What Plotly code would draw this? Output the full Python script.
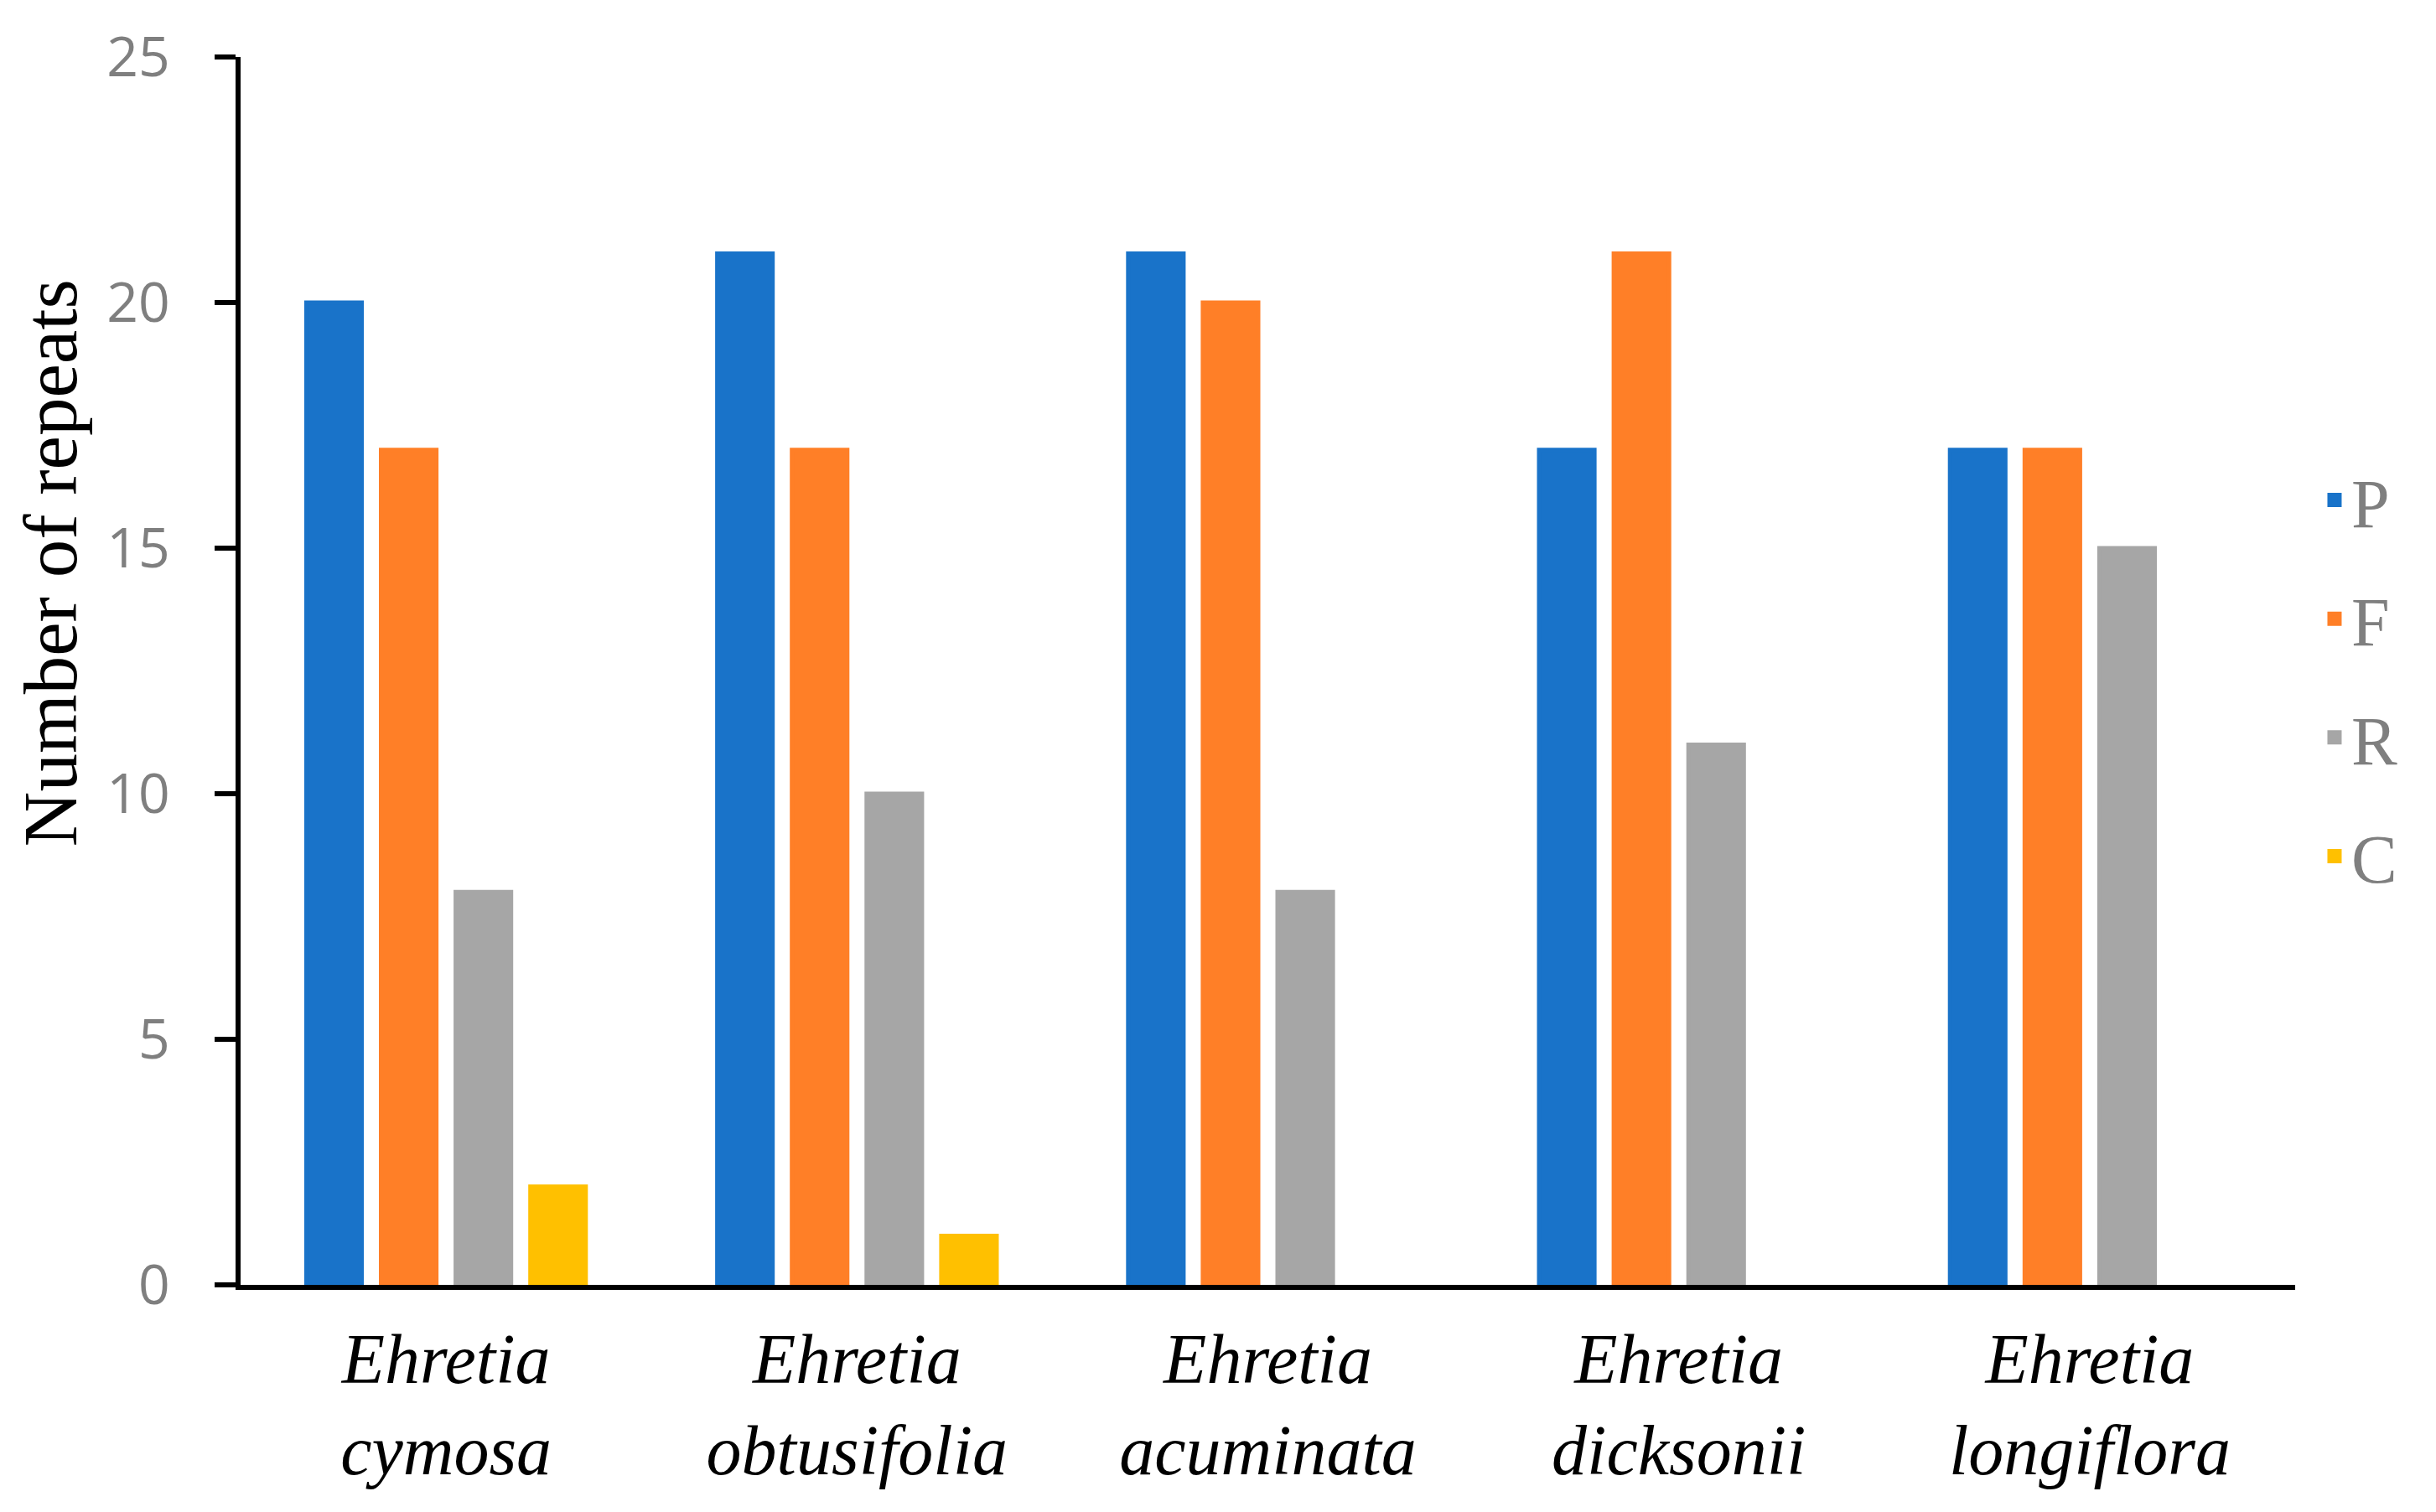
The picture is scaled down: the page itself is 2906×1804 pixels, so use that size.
import plotly.graph_objects as go

genus = ["Ehretia", "Ehretia", "Ehretia", "Ehretia", "Ehretia"]
species = ["cymosa", "obtusifolia", "acuminata", "dicksonii", "longiflora"]
categories = [g + " " + s for g, s in zip(genus, species)]
tick_labels = [g + "<br>" + s for g, s in zip(genus, species)]

series_names = ["P", "F", "R", "C"]
P_values = [20, 21, 21, 17, 17]
F_values = [17, 17, 20, 21, 17]
R_values = [8, 10, 8, 11, 15]
C_values = [2, 1, 0, 0, 0]
series_values = [P_values, F_values, R_values, C_values]
series_colors = ["#1973C9", "#FF7F27", "#A6A6A6", "#FFC000"]

y_ticks = [0, 5, 10, 15, 20, 25]

# page body has an 8px default margin
W, H = 2906 - 16, 1804 - 16
L, R, T, B = 279, 160, 60, 263

fig = go.Figure()
for name, vals, col in zip(series_names, series_values, series_colors):
    fig.add_trace(go.Bar(
        x=categories, y=vals, name=name, legendgroup=name,
        marker=dict(color=col,
                    line=dict(color=col, width=[5 if v > 0 else 0 for v in vals])),
    ))

fig.update_layout(
    width=W, height=H,
    margin=dict(l=L, r=R, t=T, b=B, autoexpand=False),
    paper_bgcolor="white", plot_bgcolor="white",
    barmode="group", bargap=0.273, bargroupgap=0.258,
    showlegend=True,
    legend=dict(
        x=1.011, xanchor="left", y=0.680, yanchor="top",
        font=dict(family="Liberation Serif", size=82, color="#7F7F7F"),
        tracegroupgap=32, bgcolor="rgba(0,0,0,0)",
    ),
    xaxis=dict(
        tickmode="array", tickvals=categories, ticktext=tick_labels,
        showline=True, linecolor="black", linewidth=6,
        ticks="", showgrid=False, zeroline=False,
        tickfont=dict(family="Liberation Serif", size=84, color="black",
                      style="italic"),
        ticklabelstandoff=10,
    ),
    yaxis=dict(
        range=[0, 25], tickmode="array", tickvals=y_ticks,
        showline=True, linecolor="black", linewidth=6,
        ticks="outside", ticklen=25, tickwidth=6, tickcolor="black",
        showgrid=False, zeroline=False,
        tickfont=dict(family="Open Sans", size=66, color="#7F7F7F"),
        ticklabelstandoff=40,
    ),
    annotations=[dict(
        text="Number of repeats", xref="paper", yref="paper",
        x=-0.0925, y=0.5877, xanchor="center", yanchor="middle",
        textangle=-90, showarrow=False,
        font=dict(family="Liberation Serif", size=91, color="black"),
    )],
)

fig.write_html("out.html")
